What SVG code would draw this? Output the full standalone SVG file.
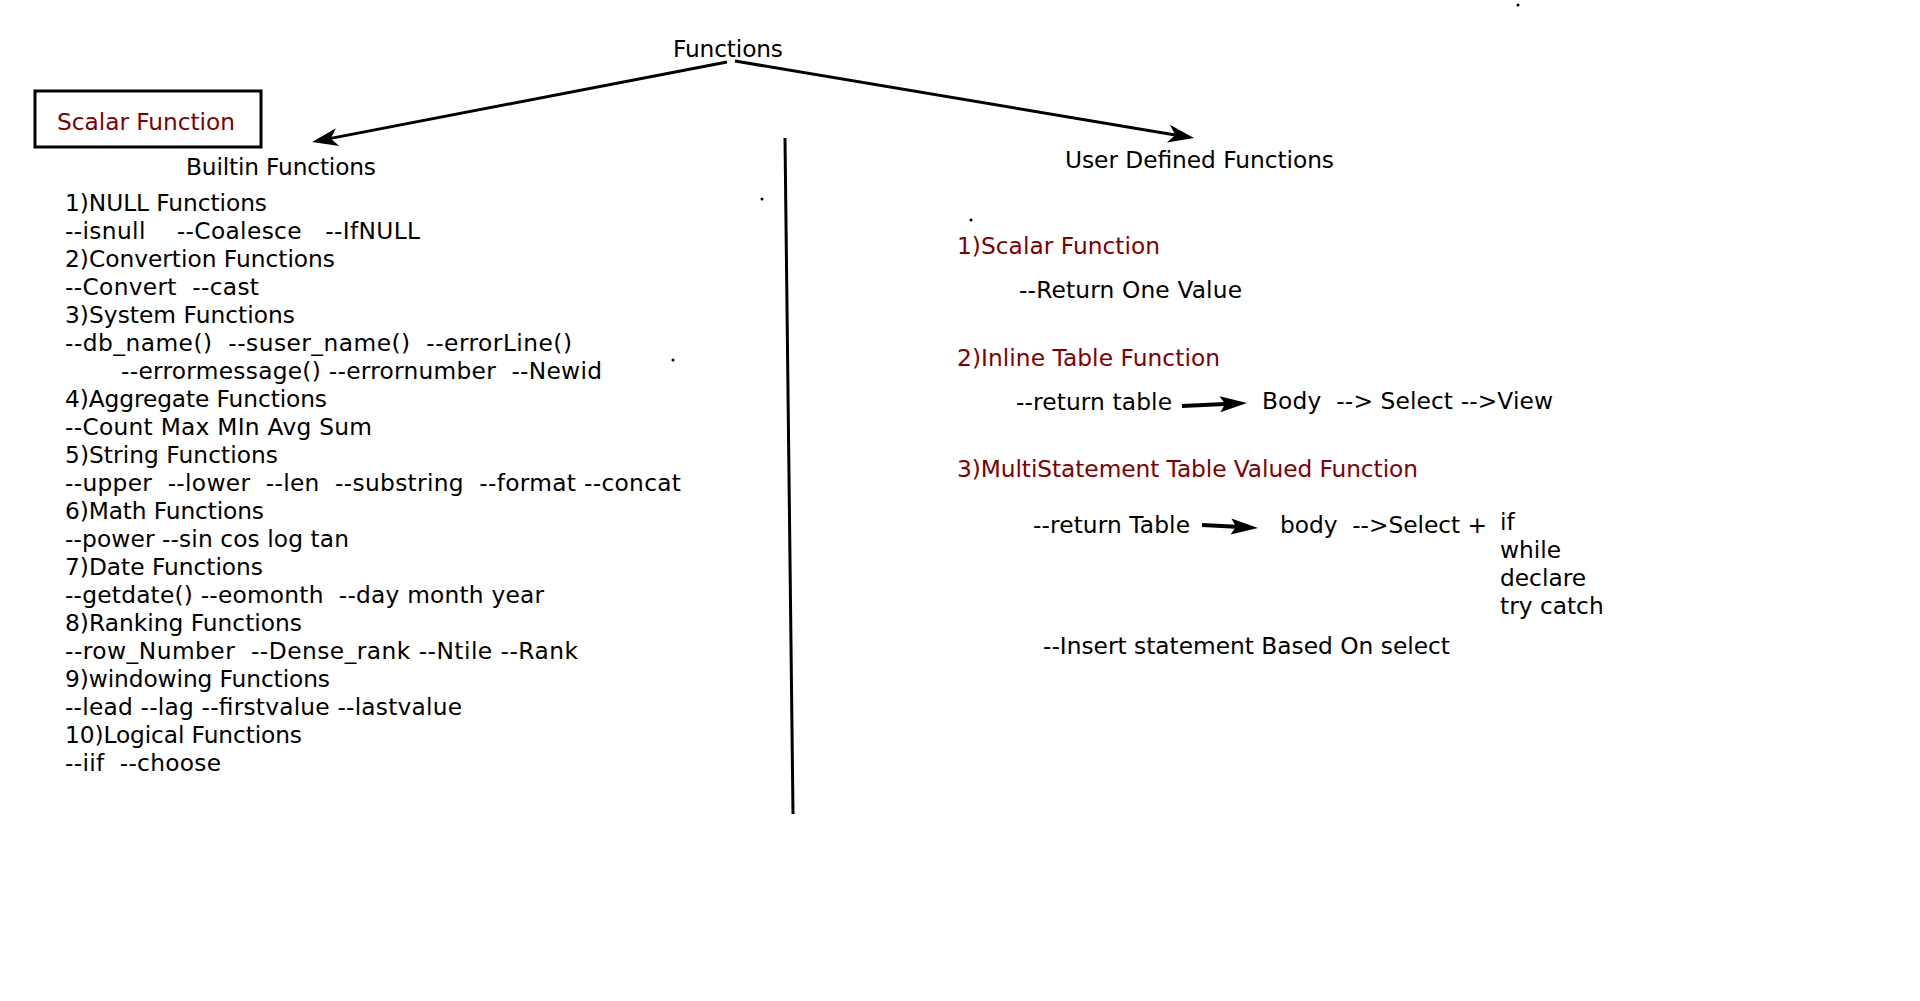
<svg xmlns="http://www.w3.org/2000/svg" width="1920" height="1001" viewBox="0 0 1920 1001" xml:space="preserve">
<style>
text{font-family:"DejaVu Sans","Verdana",sans-serif;font-size:23.3px;fill:#000;white-space:pre}
.red{fill:#800000}
.conn{stroke:#000;fill:none}
</style>
<defs>
<marker id="classic" markerUnits="userSpaceOnUse" viewBox="-8 -10 28 20" refX="0" refY="0" markerWidth="28" markerHeight="20" orient="auto">
<path d="M19,0 L-7,-9 L0,0 L-7,9 Z" fill="#000"/>
</marker>
<marker id="bold" markerUnits="userSpaceOnUse" viewBox="-6 -10 30 20" refX="0" refY="0" markerWidth="30" markerHeight="20" orient="auto">
<path d="M22,0 L-5,-8 L0,0 L-5,8 Z" fill="#000"/>
</marker>
</defs>
<rect width="1920" height="1001" fill="#fff"/>

<g id="connectors">
<line class="conn" x1="727" y1="62" x2="330.7" y2="138.4" stroke-width="3" marker-end="url(#classic)"/>
<line class="conn" x1="735" y1="61" x2="1175.3" y2="134.9" stroke-width="3" marker-end="url(#classic)"/>
<line class="conn" x1="785" y1="138" x2="793" y2="814" stroke-width="3"/>
<line class="conn" x1="1182" y1="406" x2="1225" y2="404" stroke-width="4" marker-end="url(#bold)"/>
<line class="conn" x1="1202" y1="525" x2="1236" y2="526.8" stroke-width="4" marker-end="url(#bold)"/>
</g>

<g id="functions">
<text x="673" y="57" textLength="110">Functions</text>
</g>

<g id="scalar-box">
<rect x="35" y="91" width="226" height="56" fill="#fff" stroke="#000" stroke-width="3"/>
<text class="red" x="57" y="130" textLength="178">Scalar Function</text>
</g>

<g id="builtin">
<text x="186" y="175" textLength="190">Builtin Functions</text>
<text x="65" y="211" textLength="202">1)NULL Functions</text>
<text x="65" y="239" textLength="355">--isnull    --Coalesce   --IfNULL</text>
<text x="65" y="267" textLength="270">2)Convertion Functions</text>
<text x="65" y="295" textLength="194">--Convert  --cast</text>
<text x="65" y="323" textLength="230">3)System Functions</text>
<text x="65" y="351" textLength="507">--db_name()  --suser_name()  --errorLine()</text>
<text x="121" y="379" textLength="481">--errormessage() --errornumber  --Newid</text>
<text x="65" y="407" textLength="262">4)Aggregate Functions</text>
<text x="65" y="435" textLength="307">--Count Max MIn Avg Sum</text>
<text x="65" y="463" textLength="213">5)String Functions</text>
<text x="65" y="491" textLength="616">--upper  --lower  --len  --substring  --format --concat</text>
<text x="65" y="519" textLength="199">6)Math Functions</text>
<text x="65" y="547" textLength="284">--power --sin cos log tan</text>
<text x="65" y="575" textLength="198">7)Date Functions</text>
<text x="65" y="603" textLength="479">--getdate() --eomonth  --day month year</text>
<text x="65" y="631" textLength="237">8)Ranking Functions</text>
<text x="65" y="659" textLength="513">--row_Number  --Dense_rank --Ntile --Rank</text>
<text x="65" y="687" textLength="265">9)windowing Functions</text>
<text x="65" y="715" textLength="397">--lead --lag --firstvalue --lastvalue</text>
<text x="65" y="743" textLength="237">10)Logical Functions</text>
<text x="65" y="771" textLength="156">--iif  --choose</text>
</g>

<g id="user-defined">
<text x="1065" y="168" textLength="269">User Defined Functions</text>
<text class="red" x="957" y="254" textLength="203">1)Scalar Function</text>
<text x="1019" y="298" textLength="223">--Return One Value</text>
<text class="red" x="957" y="366" textLength="263">2)Inline Table Function</text>
<text x="1016" y="410" textLength="156">--return table</text>
<text x="1262" y="409" textLength="291">Body  --&gt; Select --&gt;View</text>
<text class="red" x="957" y="477" textLength="461">3)MultiStatement Table Valued Function</text>
<text x="1033" y="533" textLength="157">--return Table</text>
<text x="1280" y="533" textLength="207">body  --&gt;Select +</text>
<text x="1500" y="530">if</text>
<text x="1500" y="558">while</text>
<text x="1500" y="586">declare</text>
<text x="1500" y="614">try catch</text>
<text x="1043" y="654" textLength="407">--Insert statement Based On select</text>
</g>

<g id="dots" fill="#000">
<circle cx="1518" cy="5" r="1.5"/>
<circle cx="762" cy="199" r="1.5"/>
<circle cx="673" cy="360" r="1.5"/>
<circle cx="971" cy="220" r="1.5"/>
</g>
</svg>
